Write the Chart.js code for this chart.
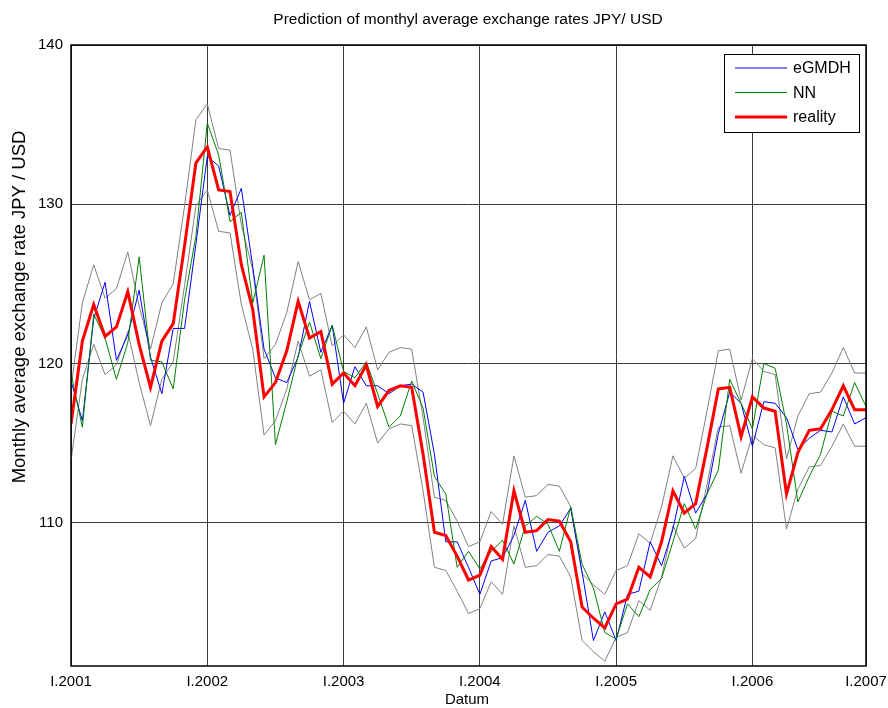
<!DOCTYPE html>
<html><head><meta charset="utf-8">
<script src="https://cdn.jsdelivr.net/npm/chart.js@4.4.1/dist/chart.umd.min.js"></script>
<style>html,body{margin:0;padding:0;background:#fff;}canvas{display:block;}</style>
</head><body>
<canvas id="c" width="888" height="708"></canvas>
<script>
// ---- data ----
const tickPositions = [0, 12, 24, 36, 48, 60, 70];
const tickLabels = ['I.2001', 'I.2002', 'I.2003', 'I.2004', 'I.2005', 'I.2006', 'I.2007'];
const yTickValues = [110, 120, 130, 140];
const seriesNames = ['eGMDH', 'NN', 'reality'];

const reality = [116.2,121.4,123.7,121.7,122.3,124.5,121.2,118.5,121.4,122.5,127.4,132.6,133.6,130.9,130.8,126.2,123.4,117.9,118.8,120.8,
  123.9,121.6,122.0,118.7,119.4,118.6,119.9,117.3,118.3,118.6,118.5,114.3,109.4,109.2,107.9,106.4,106.7,108.5,107.7,112.0,
  109.4,109.5,110.2,110.1,108.8,104.7,104.0,103.4,104.9,105.2,107.2,106.6,108.8,112.0,110.6,111.2,114.7,118.4,118.5,115.4,
  117.9,117.2,117.0,111.8,114.4,115.8,115.9,117.1,118.6,117.1,117.1];
const eGMDH = [118.9,116.4,122.8,125.1,120.2,121.8,124.6,120.4,118.1,122.2,122.2,127.5,133.0,132.4,129.3,131.0,126.1,120.9,119.1,118.8,
  120.4,123.9,120.7,122.4,117.5,119.8,118.6,118.6,118.1,118.6,118.7,118.2,114.3,108.8,108.8,107.2,105.5,107.6,107.8,109.2,
  111.4,108.2,109.4,109.8,110.9,106.9,102.6,104.4,102.6,105.5,105.7,108.8,107.3,109.6,112.9,110.6,111.8,115.6,118.2,117.5,
  114.8,117.6,117.5,116.6,114.6,115.3,115.8,115.7,117.9,116.2,116.6];
const NN = [119.4,116.0,123.1,121.6,119.0,121.3,126.7,120.2,120.1,118.4,124.0,128.0,135.1,133.1,128.9,129.5,123.8,126.8,114.9,117.6,
  120.5,122.6,120.3,122.4,119.5,119.1,120.1,118.1,116.0,116.7,118.9,117.2,112.9,111.8,107.2,108.2,107.1,108.2,108.9,107.4,
  109.8,110.4,109.9,108.2,111.0,107.4,105.9,103.1,102.7,104.9,104.1,105.8,106.5,108.8,111.2,109.6,111.8,113.3,119.0,117.5,
  115.9,120.0,119.7,116.2,111.3,112.9,114.3,117.0,116.7,118.8,117.3];
const upperBand = [118.5,123.8,126.2,124.1,124.7,127.0,123.6,120.9,123.8,125.0,129.9,135.3,136.3,133.5,133.4,128.7,125.9,120.3,121.2,123.2,
  126.4,124.0,124.4,121.1,121.8,121.0,122.3,119.6,120.7,121.0,120.9,116.6,111.6,111.4,110.1,108.5,108.8,110.7,109.9,114.2,
  111.6,111.7,112.4,112.3,111.0,106.8,106.1,105.5,107.0,107.3,109.3,108.7,111.0,114.2,112.8,113.4,117.0,120.8,120.9,117.7,
  120.3,119.5,119.3,114.0,116.7,118.1,118.2,119.4,121.0,119.4,119.4];
const lowerBand = [113.9,119.0,121.2,119.3,119.9,122.0,118.8,116.1,119.0,120.1,124.9,129.9,130.9,128.3,128.2,123.7,120.9,115.5,116.4,118.4,
  121.4,119.2,119.6,116.3,117.0,116.2,117.5,115.0,115.9,116.2,116.1,112.0,107.2,107.0,105.7,104.3,104.6,106.3,105.5,109.8,
  107.2,107.3,108.0,107.9,106.6,102.6,101.9,101.3,102.8,103.1,105.1,104.5,106.6,109.8,108.4,109.0,112.4,116.0,116.1,113.1,
  115.5,114.9,114.7,109.6,112.1,113.5,113.6,114.8,116.2,114.8,114.8];

const FONT = '"Liberation Sans", Arial, sans-serif';
const toPts = arr => arr.map((v, i) => ({ x: i, y: v }));

const ds = (label, data, color, width) => ({
  label, data: toPts(data), borderColor: color, backgroundColor: color,
  borderWidth: width, pointRadius: 0, tension: 0, fill: false
});

const decor = {
  id: 'decor',
  afterDraw(chart) {
    const ctx = chart.ctx, a = chart.chartArea;
    ctx.save();
    // axes box
    ctx.strokeStyle = '#000'; ctx.lineWidth = 1.5;
    ctx.strokeRect(a.left, a.top, a.right - a.left, a.bottom - a.top);
    // legend
    const lx = 724, ly = 54, lw = 135, lh = 78;
    ctx.fillStyle = '#fff'; ctx.fillRect(lx, ly, lw, lh);
    ctx.lineWidth = 1; ctx.strokeStyle = '#000'; ctx.strokeRect(lx + 0.5, ly + 0.5, lw, lh);
    const cols = ['#0000ff', '#008000', '#ff0000'], widths = [1, 1, 3], ys = [68, 92.5, 117];
    ctx.font = '16px ' + FONT; ctx.textBaseline = 'middle'; ctx.textAlign = 'left';
    seriesNames.forEach((n, i) => {
      ctx.strokeStyle = cols[i]; ctx.lineWidth = widths[i];
      ctx.beginPath(); ctx.moveTo(735, ys[i]); ctx.lineTo(787, ys[i]); ctx.stroke();
      ctx.fillStyle = '#000'; ctx.fillText(n, 793, ys[i] + 1);
    });
    // title
    ctx.fillStyle = '#000'; ctx.textAlign = 'center';
    ctx.font = '15.5px ' + FONT;
    ctx.fillText('Prediction of monthyl average exchange rates JPY/ USD', 468, 20);
    // x axis title
    ctx.font = '15px ' + FONT;
    ctx.fillText('Datum', 467, 700);
    // y axis title
    ctx.font = '18.5px ' + FONT;
    ctx.translate(20, 307);
    ctx.rotate(-Math.PI / 2);
    ctx.fillText('Monthly average exchange rate JPY / USD', 0, 0);
    ctx.restore();
  }
};

new Chart(document.getElementById('c'), {
  type: 'line',
  data: {
    datasets: [
      ds(seriesNames[2], reality, '#ff0000', 3),
      ds(seriesNames[1], NN, '#008000', 1),
      ds(seriesNames[0], eGMDH, '#0000ff', 1),
      ds('upper', upperBand, '#808080', 1),
      ds('lower', lowerBand, '#808080', 1)
    ]
  },
  options: {
    responsive: false, animation: false, devicePixelRatio: 1,
    layout: { padding: { top: 45, right: 22, left: 0, bottom: 0 } },
    plugins: { legend: { display: false }, title: { display: false }, tooltip: { enabled: false } },
    scales: {
      x: {
        type: 'linear', min: 0, max: 70,
        afterBuildTicks: s => { s.ticks = tickPositions.map(v => ({ value: v })); },
        afterFit: s => { s.height = 42; s.paddingLeft = 0; s.paddingRight = 0; },
        ticks: {
          autoSkip: false, maxRotation: 0, padding: 7, color: '#000',
          font: { family: FONT, size: 15 },
          callback: (v) => { const i = tickPositions.indexOf(v); return i >= 0 ? tickLabels[i] : ''; }
        },
        grid: { color: '#3a3a3a', lineWidth: 1, drawTicks: false, tickLength: 0 },
        border: { display: false }
      },
      y: {
        type: 'linear', min: 101, max: 140,
        afterBuildTicks: s => { s.ticks = yTickValues.map(v => ({ value: v })); },
        afterFit: s => { s.width = 71; s.paddingTop = 0; s.paddingBottom = 0; },
        ticks: { padding: 8, color: '#000', font: { family: FONT, size: 15 } },
        grid: { color: '#3a3a3a', lineWidth: 1, drawTicks: false, tickLength: 0 },
        border: { display: false }
      }
    }
  },
  plugins: [decor]
});
</script>
</body></html>
